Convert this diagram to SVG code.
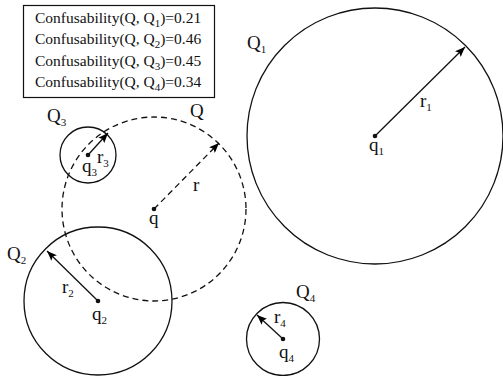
<svg xmlns="http://www.w3.org/2000/svg" width="503" height="376" viewBox="0 0 503 376" font-family="'Liberation Serif', 'Times New Roman', serif">
<defs>
<marker id="ah" viewBox="0 0 10 8" refX="10" refY="4" markerWidth="10" markerHeight="8" markerUnits="userSpaceOnUse" orient="auto">
<path d="M0,0 L10,4 L0,8 L2,4 Z" fill="#000"/>
</marker>
</defs>
<style>
text{font-family:'Liberation Serif','Times New Roman',serif;fill:#111}
.lbl{font-size:19px}
.box{font-size:15.5px}
.sub{font-size:11px}
.c{fill:none;stroke:#111;stroke-width:1.3}
.d{fill:none;stroke:#111;stroke-width:1.3;stroke-dasharray:6,4}
.a{stroke:#111;stroke-width:1.3;fill:none;marker-end:url(#ah)}
.ad{stroke:#111;stroke-width:1.3;fill:none;stroke-dasharray:6,4;marker-end:url(#ah)}
.pt{fill:#111}
</style>
<rect width="503" height="376" fill="#fff"/>
<g id="legend" font-family="Liberation Serif">
<rect x="23.5" y="5.5" width="191" height="92" fill="#fff" stroke="#111" stroke-width="1.2"/>
<text class="box" x="35" y="22.5">Confusability(Q, Q<tspan class="sub" dy="4">1</tspan><tspan dy="-4">)=0.21</tspan></text>
<text class="box" x="35" y="44">Confusability(Q, Q<tspan class="sub" dy="4">2</tspan><tspan dy="-4">)=0.46</tspan></text>
<text class="box" x="35" y="65.5">Confusability(Q, Q<tspan class="sub" dy="4">3</tspan><tspan dy="-4">)=0.45</tspan></text>
<text class="box" x="35" y="87">Confusability(Q, Q<tspan class="sub" dy="4">4</tspan><tspan dy="-4">)=0.34</tspan></text>
</g>
<g id="Q1" font-family="Liberation Serif">
<circle class="c" cx="375" cy="136" r="128"/>
<circle class="pt" cx="375" cy="136" r="2.3"/>
<text class="lbl" x="247" y="49">Q<tspan class="sub" dy="4">1</tspan></text>
<text class="lbl" x="369" y="151">q<tspan class="sub" dy="4">1</tspan></text>
<text class="lbl" x="420" y="107">r<tspan class="sub" dy="4">1</tspan></text>
</g>
<g id="Q" font-family="Liberation Serif">
<circle class="d" cx="154" cy="209" r="92"/>
<circle class="pt" cx="154" cy="209" r="2.3"/>
<text class="lbl" x="190" y="117">Q</text>
<text class="lbl" x="149" y="224">q</text>
<text class="lbl" x="193" y="191">r</text>
</g>
<g id="Q3" font-family="Liberation Serif">
<circle class="c" cx="88" cy="155" r="28"/>
<circle class="pt" cx="88" cy="155" r="2.3"/>
<text class="lbl" x="47" y="122">Q<tspan class="sub" dy="4">3</tspan></text>
<text class="lbl" x="82" y="172">q<tspan class="sub" dy="4">3</tspan></text>
<text class="lbl" x="97" y="163">r<tspan class="sub" dy="4">3</tspan></text>
</g>
<g id="Q2" font-family="Liberation Serif">
<circle class="c" cx="98" cy="301" r="74"/>
<circle class="pt" cx="98" cy="301" r="2.3"/>
<text class="lbl" x="7" y="260">Q<tspan class="sub" dy="4">2</tspan></text>
<text class="lbl" x="92" y="320">q<tspan class="sub" dy="4">2</tspan></text>
<text class="lbl" x="62" y="293">r<tspan class="sub" dy="4">2</tspan></text>
</g>
<g id="Q4" font-family="Liberation Serif">
<circle class="c" cx="283" cy="339" r="36.5"/>
<circle class="pt" cx="283" cy="339" r="2.3"/>
<text class="lbl" x="296" y="298">Q<tspan class="sub" dy="4">4</tspan></text>
<text class="lbl" x="279" y="358">q<tspan class="sub" dy="4">4</tspan></text>
<text class="lbl" x="274" y="323">r<tspan class="sub" dy="4">4</tspan></text>
</g>
<g id="connectors">
<line class="a" x1="375" y1="136" x2="465" y2="47"/>
<line class="ad" x1="154" y1="209" x2="219" y2="143"/>
<line class="a" x1="88" y1="155" x2="108" y2="133"/>
<line class="a" x1="98" y1="301" x2="47" y2="251"/>
<line class="a" x1="283" y1="339" x2="257" y2="315"/>
</g>
</svg>
